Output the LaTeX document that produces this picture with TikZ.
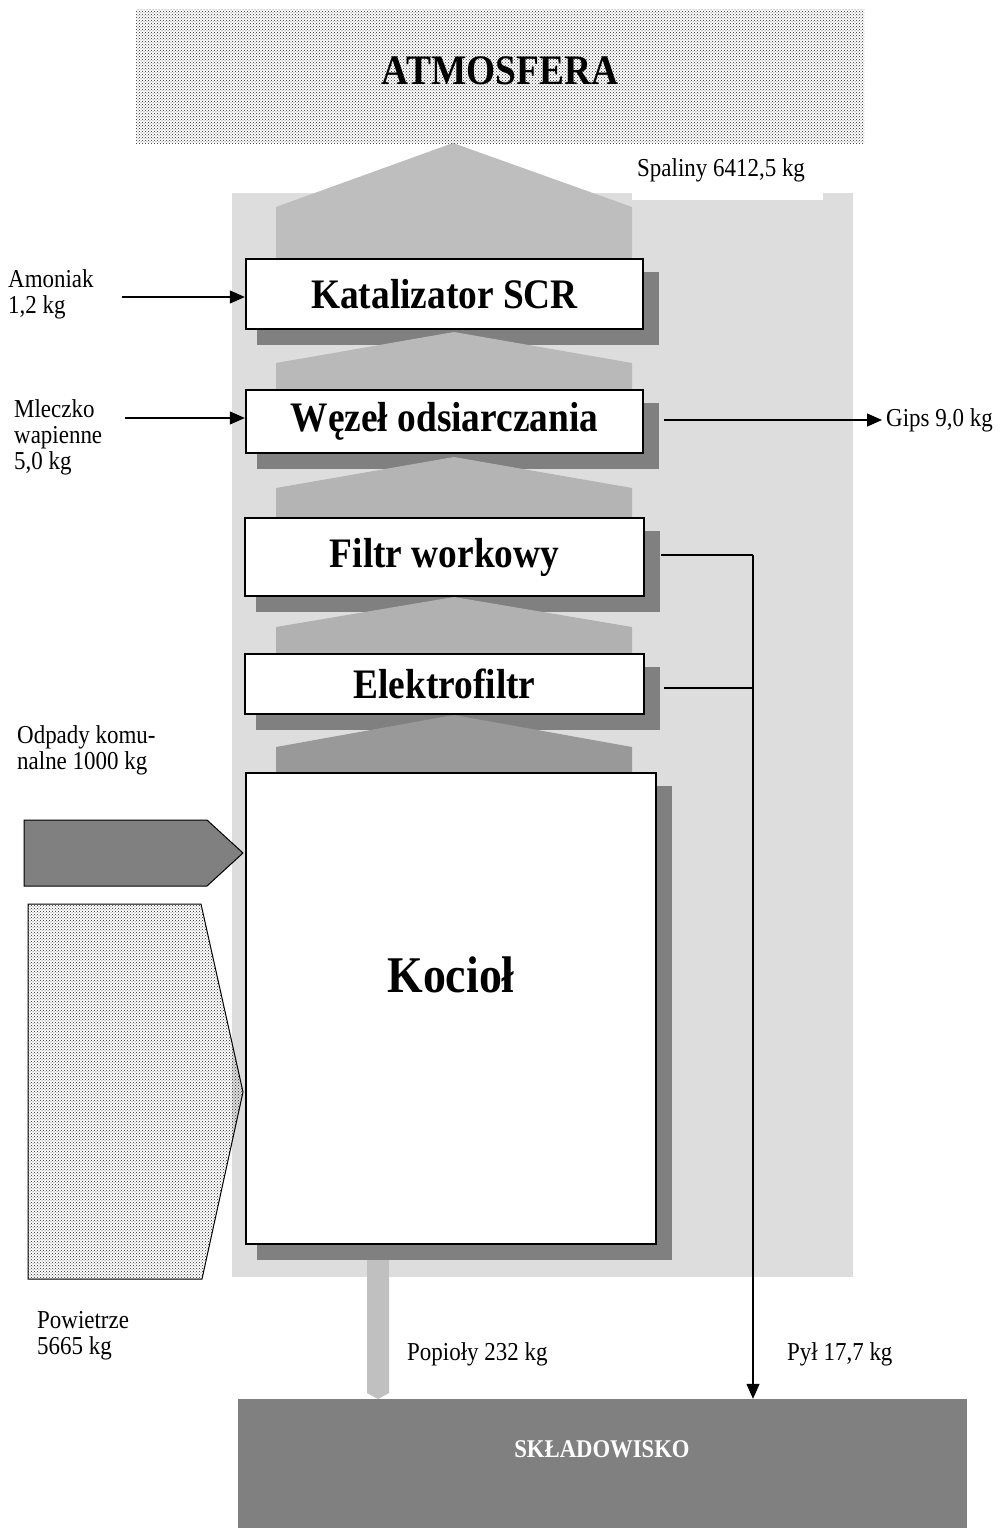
\documentclass[tikz,border=0pt]{standalone}
\usepackage{fontspec}
\setmainfont{Liberation Serif}
\newfontfamily\tallserif[FakeStretch=0.89]{Liberation Serif}
\usetikzlibrary{calc,arrows.meta,patterns}
\pgfdeclarelayer{bg}\pgfdeclarelayer{shad}\pgfdeclarelayer{chev}
\pgfsetlayers{bg,shad,chev,main}
\definecolor{bglight}{HTML}{DDDDDD}
\definecolor{shadowgray}{HTML}{808080}
\definecolor{chevA}{HTML}{BEBEBE}
\definecolor{chevB}{HTML}{B9B9B9}
\definecolor{chevC}{HTML}{B4B4B4}
\definecolor{chevD}{HTML}{B1B1B1}
\definecolor{chevE}{HTML}{999999}
\definecolor{ashgray}{HTML}{C0C0C0}
\newcommand\unitfont{\tallserif\bfseries\fontsize{42}{44}\selectfont}
\newcommand\kocfont{\tallserif\bfseries\fontsize{51.5}{54}\selectfont}
\newcommand\lblfont{\tallserif\fontsize{25.8}{26}\selectfont}
\newcommand\skfont{\tallserif\bfseries\fontsize{25.5}{27}\selectfont}
\tikzset{
  unitbox/.style={draw=black, line width=2.4pt, fill=white, rectangle, inner sep=0pt, font=\unitfont},
  lbl/.style={inner sep=0pt, anchor=west, align=left, font=\lblfont},
  arr/.style={line width=1.2pt, -{Triangle[length=15pt,width=13pt]}},
  flowline/.style={line width=1.2pt},
  shadowbox/.style={fill=shadowgray},
  dotted fill/.style={pattern=crosshatch dots, pattern color=black!85},
}
\begin{document}
\begin{tikzpicture}[x=1pt,y=-1pt]
\useasboundingbox (0,0) rectangle (999,1528);

% main units
\node[unitbox, minimum width=397pt, minimum height=70pt] (kat) at (444.5,294) {Katalizator SCR};
\node[unitbox, minimum width=397pt, minimum height=63pt] (wez) at (444.5,421.5) {Węzeł odsiarczania};
\node[unitbox, minimum width=399pt, minimum height=78pt] (fil) at (444.5,557) {Filtr workowy};
\node[unitbox, minimum width=399pt, minimum height=60pt] (ele) at (444.5,684) {Elektrofiltr};
\node[unitbox, minimum width=410pt, minimum height=471pt] (koc) at (451,1008.5) {};
\node[font=\kocfont, inner sep=0pt] (koct) at (451,975) {Kocioł};

% atmosphere
\node[dotted fill, minimum width=728pt, minimum height=133pt, inner sep=0pt] (atm) at (500,76.5) {};
\node[font=\unitfont, inner sep=0pt] (atmt) at (500,71) {ATMOSFERA};

% landfill
\node[fill=shadowgray, minimum width=729pt, minimum height=131pt, inner sep=0pt] (sk) at (602.5,1464.5) {};
\node[font=\skfont, text=white, inner sep=0pt] (skt) at (602,1449) {SKŁADOWISKO};

% background and ash pipe
\begin{pgfonlayer}{bg}
  \fill[bglight] (232,193) rectangle (853,1277);
  \fill[white] (632,150) rectangle (823,200);
  \fill[ashgray] (367,1250) -- (389,1250) -- (389,1393) -- (378,1399) -- (367,1393) -- cycle;
\end{pgfonlayer}

% shadows
\begin{pgfonlayer}{shad}
  \foreach \n in {kat,wez,fil,ele,koc}{
    \fill[shadowbox] ($(\n.north west)+(12,14)$) rectangle ($(\n.south east)+(15,15)$);
  }
\end{pgfonlayer}

% chevrons (upward gas flow)
\begin{pgfonlayer}{chev}
  \fill[chevA] (276,264) -- (276,207) -- (453,143) -- (632,207) -- (632,264) -- cycle;
  \fill[chevB] (276,395) -- (276,363) -- (454,332) -- (632,363) -- (632,395) -- cycle;
  \fill[chevC] (276,523) -- (276,488) -- (454,457) -- (632,488) -- (632,523) -- cycle;
  \fill[chevD] (276,659) -- (276,627) -- (454,597) -- (632,627) -- (632,659) -- cycle;
  \fill[chevE] (276,778) -- (276,747) -- (454,715) -- (632,747) -- (632,778) -- cycle;
\end{pgfonlayer}

% inflows on the left
\draw[line width=1pt, fill=shadowgray] (24,820) -- (207,820) -- (243,853) -- (207,886) -- (24,886) -- cycle;
\draw[line width=1pt, dotted fill] (28,904) -- (201,904) -- (243,1092) -- (202,1279) -- (28,1279) -- cycle;

% reagent arrows
\coordinate (amo) at (122,297);
\draw[arr] (amo) -- (amo -| kat.west);
\coordinate (mle) at (125,418);
\draw[arr] (mle) -- (mle -| wez.west);

% gypsum
\coordinate (gips) at (882,420);
\draw[arr] ($(wez.east |- gips)+(20,0)$) -- (gips);

% dust collection
\coordinate (j1) at (753,555);
\coordinate (j2) at (753,688);
\draw[flowline] ($(fil.east)+(16,-2)$) -- (j1);
\draw[flowline] ($(ele.east)+(19,4)$) -- (j2);
\draw[arr] (j1) -- (j1 |- sk.north);

% labels
\node[lbl] (lamo) at (8,294) {Amoniak\\1,2 kg};
\node[lbl] (lmle) at (14,437) {Mleczko\\wapienne\\5,0 kg};
\node[lbl] (lgips) at (886,420) {Gips 9,0 kg};
\node[lbl] (lspa) at (637,170) {Spaliny 6412,5 kg};
\node[lbl] (lodp) at (17,750) {Odpady komu-\\nalne 1000 kg};
\node[lbl] (lpow) at (37,1336) {Powietrze\\5665 kg};
\node[lbl] (lpop) at (407,1354) {Popioły 232 kg};
\node[lbl] (lpyl) at (787,1354) {Pył 17,7 kg};
\end{tikzpicture}
\end{document}
